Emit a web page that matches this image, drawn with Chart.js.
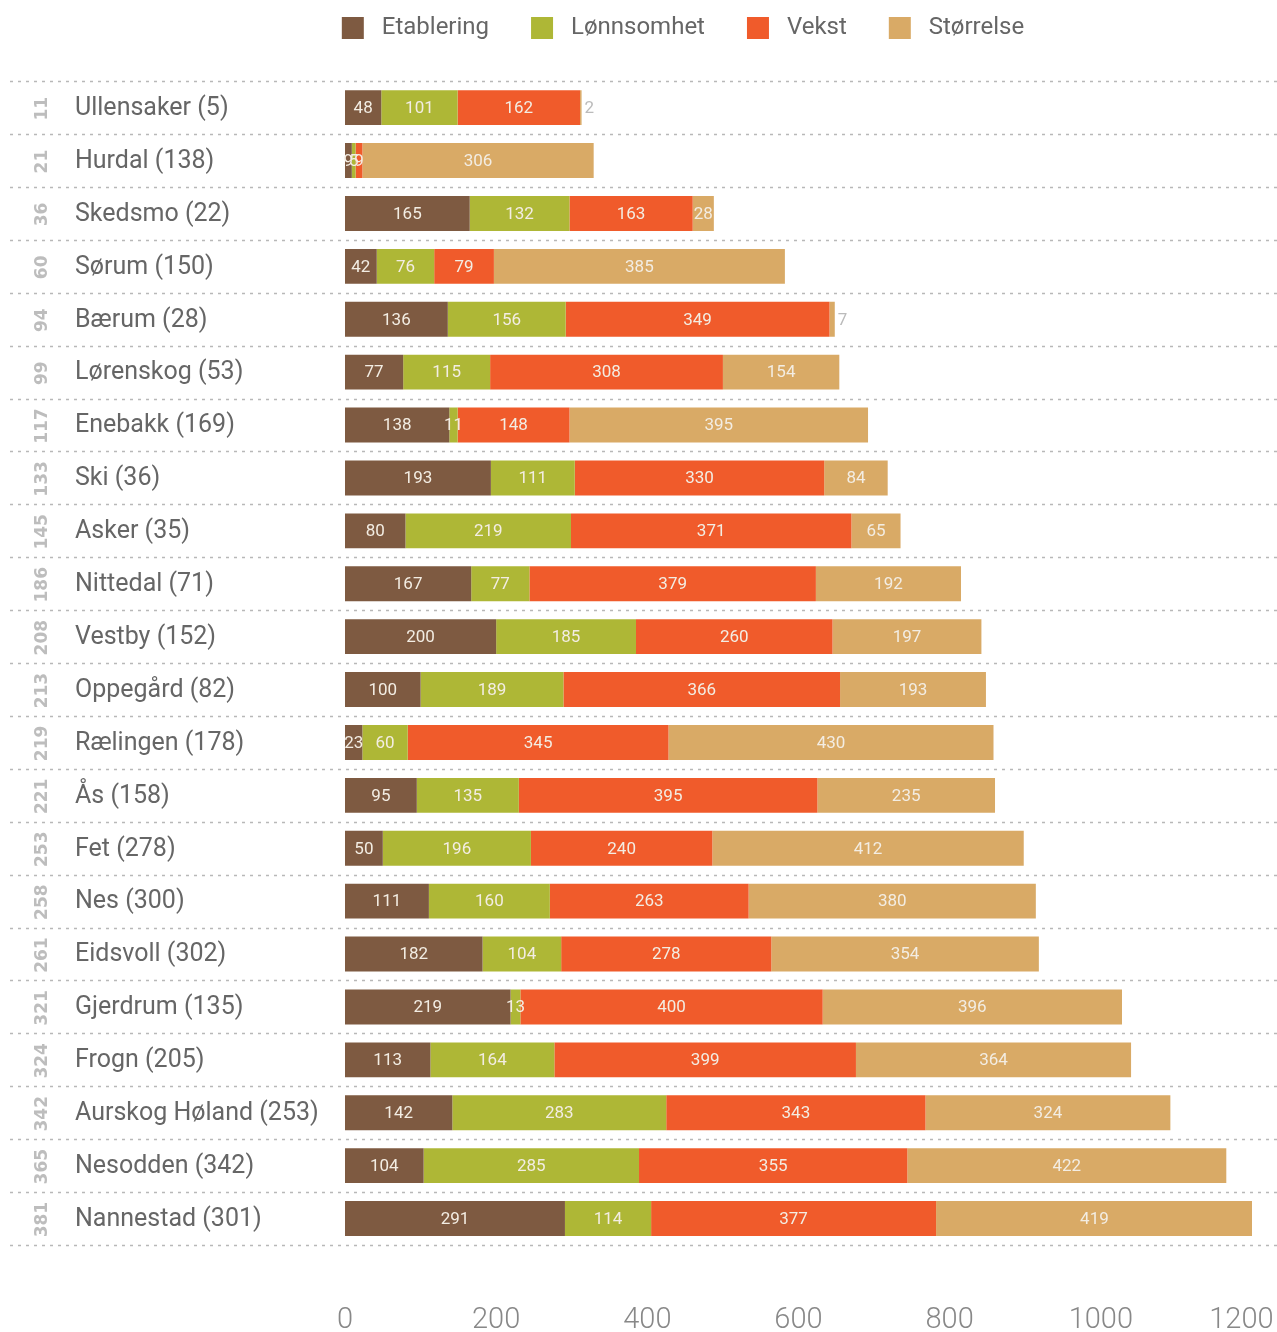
<!DOCTYPE html>
<html lang="nb">
<head>
<meta charset="UTF-8">
<title>Kommuner – Etablering, Lønnsomhet, Vekst, Størrelse</title>
<script src="https://cdn.jsdelivr.net/npm/chart.js@4"></script>
<style>
  * { box-sizing: border-box; margin: 0; padding: 0; }
  body { background: #fff; width: 1277px; height: 1332px; overflow: hidden; }
  #wrap { position: relative; width: 1277px; height: 1332px; }
</style>
</head>
<body>
<div id="wrap"><canvas id="chart"></canvas></div>
<script>
// ── Data ─────────────────────────────────────────────────────────────────────
const kommuner = ['Ullensaker (5)', 'Hurdal (138)', 'Skedsmo (22)', 'Sørum (150)', 'Bærum (28)',
  'Lørenskog (53)', 'Enebakk (169)', 'Ski (36)', 'Asker (35)', 'Nittedal (71)', 'Vestby (152)',
  'Oppegård (82)', 'Rælingen (178)', 'Ås (158)', 'Fet (278)', 'Nes (300)', 'Eidsvoll (302)',
  'Gjerdrum (135)', 'Frogn (205)', 'Aurskog Høland (253)', 'Nesodden (342)', 'Nannestad (301)'];
const rangering = [11, 21, 36, 60, 94, 99, 117, 133, 145, 186, 208, 213, 219, 221, 253, 258, 261, 321, 324, 342, 365, 381];

const etablering = [48, 9, 165, 42, 136, 77, 138, 193, 80, 167, 200, 100, 23, 95, 50, 111, 182, 219, 113, 142, 104, 291];
const lonnsomhet = [101, 5, 132, 76, 156, 115, 11, 111, 219, 77, 185, 189, 60, 135, 196, 160, 104, 13, 164, 283, 285, 114];
const vekst      = [162, 9, 163, 79, 349, 308, 148, 330, 371, 379, 260, 366, 345, 395, 240, 263, 278, 400, 399, 343, 355, 377];
const storrelse  = [2, 306, 28, 385, 7, 154, 395, 84, 65, 192, 197, 193, 430, 235, 412, 380, 354, 396, 364, 324, 422, 419];

const xTicks = [0, 200, 400, 600, 800, 1000, 1200];

// ── Styling ──────────────────────────────────────────────────────────────────
const FONT = 'Roboto, "DejaVu Sans", sans-serif';
const PAD_LEFT = 114;       // moves the centred legend to the right
const PLOT_LEFT = 345;      // where the value axis starts

// dotted row separators, category names and rotated rank numbers
const rowsPlugin = {
  id: 'rows',
  beforeDatasetsDraw(chart) {
    const { ctx } = chart;
    const y = chart.scales.y;
    const n = kommuner.length;
    const step = (y.getPixelForValue(1) - y.getPixelForValue(0));
    ctx.save();
    ctx.strokeStyle = '#b8b8b8';
    ctx.lineWidth = 1.5;
    ctx.setLineDash([3, 5]);
    for (let i = 0; i <= n; i++) {
      const yy = Math.round(y.getPixelForValue(i) - step / 2) + 0.5;
      ctx.beginPath();
      ctx.moveTo(10, yy);
      ctx.lineTo(chart.width, yy);
      ctx.stroke();
    }
    ctx.setLineDash([]);
    kommuner.forEach((name, i) => {
      const cy = y.getPixelForValue(i);
      ctx.fillStyle = '#666';
      ctx.font = `25px ${FONT}`;
      ctx.textAlign = 'left';
      ctx.textBaseline = 'middle';
      ctx.fillText(name, 75, cy + 1);
      ctx.save();
      ctx.translate(43, cy + 1);
      ctx.rotate(-Math.PI / 2);
      ctx.fillStyle = '#bdbdbd';
      ctx.font = 'bold 17px "DejaVu Sans", sans-serif';
      ctx.textAlign = 'center';
      ctx.fillText(String(rangering[i]), 0, 0);
      ctx.restore();
    });
    ctx.restore();
  }
};

// value labels in each segment
const valuesPlugin = {
  id: 'values',
  afterDatasetsDraw(chart) {
    const { ctx } = chart;
    const last = chart.data.datasets.length - 1;
    ctx.save();
    ctx.font = `17px ${FONT}`;
    ctx.textBaseline = 'middle';
    chart.data.datasets.forEach((ds, di) => {
      chart.getDatasetMeta(di).data.forEach((bar, i) => {
        const v = ds.data[i];
        if (di === last && v < 10) {
          ctx.fillStyle = '#bbb';
          ctx.textAlign = 'left';
          ctx.fillText(String(v), bar.x + 3, bar.y + 1);
        } else {
          ctx.fillStyle = '#f3ede3';
          ctx.textAlign = 'center';
          ctx.fillText(String(v), (bar.x + bar.base) / 2, bar.y + 1);
        }
      });
    });
    ctx.restore();
  }
};

new Chart(document.getElementById('chart'), {
  type: 'bar',
  data: {
    labels: kommuner,
    datasets: [
      { label: 'Etablering', data: etablering, backgroundColor: '#7e5a41' },
      { label: 'Lønnsomhet', data: lonnsomhet, backgroundColor: '#aeb736' },
      { label: 'Vekst', data: vekst, backgroundColor: '#f05b2b' },
      { label: 'Størrelse', data: storrelse, backgroundColor: '#d9aa66' }
    ]
  },
  options: {
    indexAxis: 'y',
    responsive: true,
    maintainAspectRatio: false,
    animation: false,
    layout: { padding: { left: PAD_LEFT, right: 25, top: -26, bottom: 0 } },
    datasets: { bar: { categoryPercentage: 1, barPercentage: 0.66, borderWidth: 0 } },
    plugins: {
      tooltip: { enabled: false },
      legend: {
        position: 'top',
        labels: {
          boxWidth: 22, boxHeight: 22, padding: 42,
          color: '#666', font: { family: FONT, size: 24 },
          generateLabels: chart => Chart.defaults.plugins.legend.labels.generateLabels(chart)
            .map(item => Object.assign(item, { text: ' ' + item.text }))
        }
      },
      // empty spacer between the legend and the plot
      title: { display: true, text: ' ', position: 'top', weight: 500, padding: 9, font: { size: 11 } }
    },
    scales: {
      x: {
        stacked: true, min: 0, max: 1200,
        afterBuildTicks: s => { s.ticks = xTicks.map(v => ({ value: v })); },
        afterFit: s => { s.paddingRight = 0; s.paddingLeft = 0; s.height = 87; },
        grid: { display: false }, border: { display: false },
        ticks: {
          color: '#888', padding: 50, maxRotation: 0,
          font: { family: FONT, size: 29, weight: 300 },
          callback: v => (v === 1200 ? v + '   ' : String(v))
        }
      },
      y: {
        stacked: true,
        afterFit: s => { s.width = PLOT_LEFT - PAD_LEFT; },
        grid: { display: false }, border: { display: false },
        ticks: { display: false }
      }
    }
  },
  plugins: [rowsPlugin, valuesPlugin]
});
</script>
</body>
</html>
